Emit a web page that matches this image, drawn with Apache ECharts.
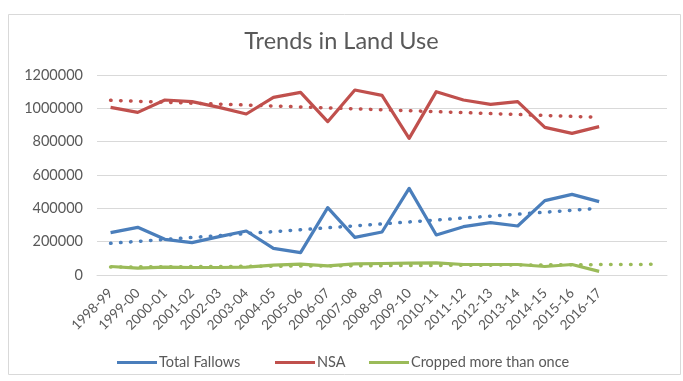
<!DOCTYPE html>
<html>
<head>
<meta charset="utf-8">
<script src="https://cdn.jsdelivr.net/npm/echarts@6/dist/echarts.min.js"></script>
<style>
  html, body { margin: 0; padding: 0; background: #fff; }
  #chart { width: 683px; height: 381px; }
</style>
</head>
<body>
<div id="chart"></div>
<script>
// Crop years; two blank slots at the end leave room for the forecast trend
const years = ['1998-99','1999-00','2000-01','2001-02','2002-03','2003-04','2004-05','2005-06',
  '2006-07','2007-08','2008-09','2009-10','2010-11','2011-12','2012-13','2013-14',
  '2014-15','2015-16','2016-17','',''];

const totalFallows = [254000, 286000, 214000, 194000, 230000, 264000, 160000, 134000, 404000,
  226000, 258000, 520000, 240000, 290000, 314000, 294000, 446000, 484000, 440000];

const nsa = [1006000, 976000, 1050000, 1040000, 1006000, 966000, 1066000, 1096000, 920000,
  1110000, 1078000, 820000, 1100000, 1050000, 1024000, 1040000, 886000, 850000, 890000];

const croppedMore = [51000, 41000, 47000, 45000, 45000, 47000, 59000, 65000, 55000,
  67000, 69000, 71000, 73000, 63000, 63000, 63000, 51000, 63000, 22000];

// Linear trend lines: [category index, value] at each end
const trendFallows = [[0, 190000], [18, 400000]];
const trendNsa = [[0, 1048000], [18, 946000]];
const trendCropped = [[0, 48000], [20, 64000]];

const yTicks = [0, 200000, 400000, 600000, 800000, 1000000, 1200000];

const BLUE = '#4a7ebb';
const RED = '#c0504d';
const GREEN = '#9bbb59';
const TEXT = '#595959';
const FONT = 'Lato, "Open Sans", sans-serif';

const dotted = { type: [0.5, 9.5], cap: 'round', width: 3.5 };

function mainSeries(name, data, color) {
  return {
    name, type: 'line', data, symbol: 'none', z: 3,
    lineStyle: { color, width: 3.2, join: 'round' },
    itemStyle: { color }
  };
}
function trendSeries(name, data, color) {
  return {
    name, type: 'line', data, symbol: 'none', z: 2, silent: true,
    lineStyle: Object.assign({ color }, dotted),
    itemStyle: { color }
  };
}
function legendItem(name, left) {
  return {
    data: [{ name, icon: 'rect' }],
    left, top: 355, padding: 0,
    itemWidth: 40, itemHeight: 3,
    selectedMode: false,
    textStyle: { color: TEXT, fontSize: 14.5, fontFamily: FONT, padding: [0, 0, 0, -3] }
  };
}

const chart = echarts.init(document.getElementById('chart'), null, { renderer: 'canvas' });
chart.setOption({
  backgroundColor: '#fff',
  animation: false,
  textStyle: { fontFamily: FONT },
  graphic: [{
    type: 'rect', left: 6, top: 12,
    shape: { width: 672, height: 360 },
    style: { fill: 'none', stroke: '#d9d9d9', lineWidth: 1 },
    silent: true
  }],
  title: {
    text: 'Trends in Land Use',
    left: 'center', top: 24,
    textStyle: { color: TEXT, fontSize: 23.5, fontWeight: 'normal', fontFamily: FONT }
  },
  legend: [
    legendItem('Total Fallows', 117),
    legendItem('NSA', 275),
    legendItem('Cropped more than once', 369)
  ],
  grid: { left: 97, right: 16, top: 75, bottom: 106, containLabel: false },
  xAxis: {
    type: 'category',
    data: years,
    boundaryGap: true,
    axisLine: { lineStyle: { color: '#d9d9d9', width: 1 } },
    axisTick: { show: false },
    axisLabel: { rotate: 45, interval: 0, color: TEXT, fontSize: 13.5, margin: 16, fontFamily: FONT }
  },
  yAxis: {
    type: 'value',
    min: 0, max: 1200000, interval: 200000,
    axisLine: { show: false },
    axisTick: { show: false },
    splitLine: { lineStyle: { color: '#d9d9d9', width: 1 } },
    axisLabel: {
      color: TEXT, fontSize: 14.5, margin: 14, fontFamily: FONT,
      formatter: v => yTicks.includes(v) ? String(v) : ''
    }
  },
  series: [
    trendSeries('Total Fallows trend', trendFallows, BLUE),
    trendSeries('NSA trend', trendNsa, RED),
    trendSeries('Cropped more than once trend', trendCropped, GREEN),
    mainSeries('Total Fallows', totalFallows, BLUE),
    mainSeries('NSA', nsa, RED),
    mainSeries('Cropped more than once', croppedMore, GREEN)
  ]
});
</script>
</body>
</html>
